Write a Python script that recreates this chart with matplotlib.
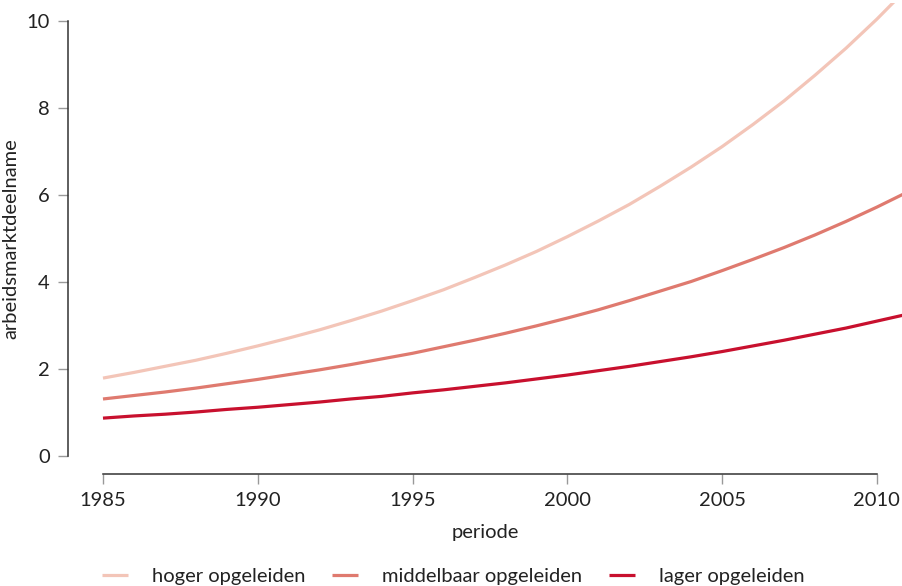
import matplotlib
matplotlib.use("Agg")
import matplotlib.pyplot as plt

years = list(range(1985, 2012))
hoger = [1.79, 1.92, 2.06, 2.20, 2.36, 2.53, 2.71, 2.90, 3.11, 3.33, 3.57, 3.82, 4.10, 4.39,
         4.70, 5.04, 5.40, 5.78, 6.20, 6.64, 7.11, 7.62, 8.16, 8.75, 9.37, 10.04, 10.76]
middelbaar = [1.31, 1.39, 1.47, 1.56, 1.66, 1.76, 1.87, 1.98, 2.10, 2.23, 2.36, 2.51, 2.66, 2.82,
              2.99, 3.17, 3.36, 3.57, 3.79, 4.01, 4.26, 4.52, 4.79, 5.08, 5.39, 5.72, 6.07]
lager = [0.87, 0.92, 0.96, 1.01, 1.07, 1.12, 1.18, 1.24, 1.31, 1.37, 1.45, 1.52, 1.60, 1.68,
         1.77, 1.86, 1.96, 2.06, 2.17, 2.28, 2.40, 2.53, 2.66, 2.80, 2.94, 3.10, 3.26]
series_names = ["hoger opgeleiden", "middelbaar opgeleiden", "lager opgeleiden"]
colors = ["#f3c5b8", "#df7a6f", "#c8102e"]
x_ticks = [1985, 1990, 1995, 2000, 2005, 2010]
y_ticks = [0, 2, 4, 6, 8, 10]

plt.rcParams['font.family'] = ['Lato', 'DejaVu Sans']
FS = 14.5

fig = plt.figure(figsize=(9.02, 5.86), dpi=100)
W, H = 902, 586
ax = fig.add_axes([68 / W, (586 - 474) / H, 1 - 68 / W, (474 - 3) / H])

for vals, name, c in zip([hoger, middelbaar, lager], series_names, colors):
    ax.plot(years, vals, color=c, lw=2.3, label=name, solid_capstyle='butt')

ax.set_xlim(1983.87, 2010.81)
ax.set_ylim(-0.414, 10.41)

for s in ['top', 'right']:
    ax.spines[s].set_visible(False)
for s in ['left', 'bottom']:
    ax.spines[s].set_color('#333333')
    ax.spines[s].set_linewidth(1.1)
ax.spines['left'].set_bounds(0, 10)
ax.spines['bottom'].set_bounds(1985, 2010)

ax.set_xticks(x_ticks)
ax.set_yticks(y_ticks)
ax.tick_params(axis='both', colors='#999999', labelcolor='#222222', length=7, width=1,
               labelsize=FS)
ax.tick_params(axis='x', pad=6)
ax.tick_params(axis='y', pad=6)

ax.set_xlabel("periode", fontsize=FS, color='#222222', labelpad=11)
ax.set_ylabel("arbeidsmarktdeelname", fontsize=FS, color='#222222', labelpad=5)

fig.legend(loc='lower left', bbox_to_anchor=(94 / W, -0.012), ncol=3, frameon=False,
           fontsize=FS, handlelength=1.3, handletextpad=1.2, columnspacing=1.3,
           labelcolor='#222222', borderaxespad=0.0)

fig.savefig("out.png", dpi=100)
